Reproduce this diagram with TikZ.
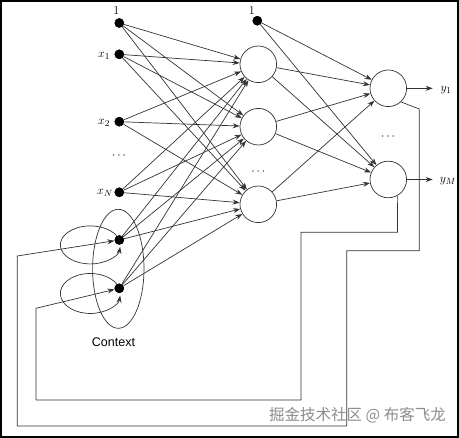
\documentclass[tikz,border=0pt]{standalone}
\usepackage{fontspec}
\newfontfamily\arialfont{Liberation Sans}
\newfontfamily\cjkfont{Noto Sans CJK SC}
\usetikzlibrary{arrows.meta,calc}
\begin{document}
\begin{tikzpicture}[x=1pt,y=-1pt,
  dot/.style={circle,fill=black,inner sep=0pt,minimum size=9.5pt},
  neuron/.style={circle,draw=black!80,line width=0.7pt,fill=white,inner sep=0pt,minimum size=36.6pt},
  arr/.style={draw=black!80,line width=0.7pt,-{Stealth[length=7pt,width=5pt]}},
  wire/.style={draw=black!80,line width=0.7pt},
  lab/.style={font=\fontsize{13}{15}\selectfont,inner sep=0pt}]
\useasboundingbox (0,0) rectangle (459,438);
\draw[line width=1.3pt] (1,1) rectangle (458,437);

% input layer
\node[dot] (b)  at (119.3,23) {};
\node[dot] (x1) at (119.3,54.3) {};
\node[dot] (x2) at (119.3,121.7) {};
\node[dot] (xN) at (119.3,192.3) {};
\node[dot] (c1) at (119.3,240) {};
\node[dot] (c2) at (119.3,288.3) {};
\node[lab] (lb)  at (116.3,11) {$1$};
\node[lab] (lx1) at (104,56) {$x_1$};
\node[lab] (lx2) at (104,123) {$x_2$};
\node[lab] (ldi) at (119,156) {$\cdots$};
\node[lab] (lxN) at (105,193) {$x_N$};

% hidden layer
\node[neuron] (h1) at (258.3,64.3) {};
\node[neuron] (h2) at (258.3,126.7) {};
\node[neuron] (h3) at (258.3,204.3) {};
\node[lab] (ldh) at (258.3,172) {$\cdots$};
\node[dot] (b2) at (257.3,20.7) {};
\node[lab] (lb2) at (251.7,11) {$1$};

% output layer
\node[neuron] (o1) at (388.3,88.3) {};
\node[neuron] (oM) at (388.3,179.5) {};
\node[lab] (ldo) at (388,137) {$\cdots$};
\coordinate (e1) at (432.7,88.3);
\coordinate (eM) at (432.7,179.5);
\node[lab] (ly1) at (446,90) {$y_1$};
\node[lab] (lyM) at (448,181.5) {$y_M$};

% input -> hidden
\foreach \s in {b,x1,x2,xN,c1,c2}{
  \foreach \t in {h1,h2,h3}{
    \draw[arr] (\s) -- (\t);
  }
}
% hidden -> output
\foreach \s in {h1,h2,h3,b2}{
  \foreach \t in {o1,oM}{
    \draw[arr] (\s) -- (\t);
  }
}
\draw[arr] (o1) -- (e1);
\draw[arr] (oM) -- (eM);

% context
\draw[wire] (118.3,268.8) ellipse[x radius=25.7pt, y radius=59.5pt];
\draw[arr] (c1.center) arc[start angle=15,end angle=354,x radius=30pt,y radius=19pt];
\draw[arr] (c2.center) arc[start angle=15,end angle=354,x radius=30pt,y radius=20pt];
\node[font=\arialfont\fontsize{12.5}{14}\selectfont] (ctx) at (113.5,342) {Context};

% feedback
\draw[arr] (o1.-47) -- (419.3,109) -- (419.3,250.7) -- (346.7,250.7) -- (346.7,426) -- (17.3,426) -- (17.3,256) -- (c1);
\draw[arr] (oM.-60) -- (397.5,232.3) -- (301,232.3) -- (301,400) -- (36,400) -- (36,308.3) -- (c2);

% redraw dots on top
\foreach \n in {b,x1,x2,xN,c1,c2,b2}{ \fill (\n) circle[radius=4.75pt]; }

% watermark
\node[font=\cjkfont\fontsize{15.5}{17}\selectfont, text=black!45] (wm) at (357.5,415) {掘金技术社区 @ 布客飞龙};
\end{tikzpicture}
\end{document}
